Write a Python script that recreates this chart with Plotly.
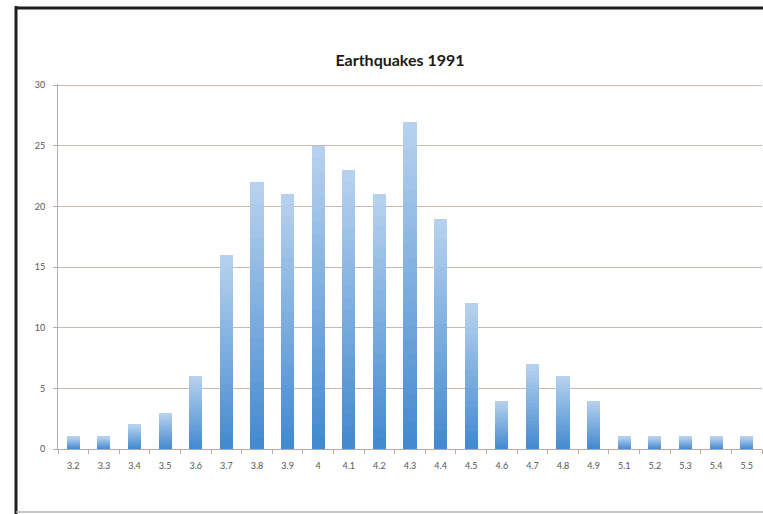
import plotly.graph_objects as go

# Earthquake counts by magnitude, 1991
magnitudes = ["3.2", "3.3", "3.4", "3.5", "3.6", "3.7", "3.8", "3.9", "4", "4.1", "4.2",
              "4.3", "4.4", "4.5", "4.6", "4.7", "4.8", "4.9", "5.1", "5.2", "5.3", "5.4", "5.5"]
counts = [1, 1, 2, 3, 6, 16, 22, 21, 25, 23, 21, 27, 19, 12, 4, 7, 6, 4, 1, 1, 1, 1, 1]
y_ticks = [0, 5, 10, 15, 20, 25, 30]

W, H = 763, 514
ML, MR, MT, MB = 58, 1, 84, 65
PW, PH = W - ML - MR, H - MT - MB


def px_x(px):
    return (px - ML) / PW


def px_y(py):
    return (H - MB - py) / PH


def lerp(c1, c2, t):
    return "#%02x%02x%02x" % tuple(round(a + (b - a) * t) for a, b in zip(c1, c2))


# Each bar is split into thin stacked slices shaded from dark (bottom) to light (top)
dark = (0x44, 0x8a, 0xd0)
light = (0xb6, 0xd1, 0xee)
steps = 24
fig = go.Figure()
for i in range(steps):
    fig.add_trace(go.Bar(
        x=magnitudes,
        y=[c / steps for c in counts],
        marker=dict(color=lerp(dark, light, i / (steps - 1)), line=dict(width=0)),
        showlegend=False,
        hoverinfo="skip",
    ))

fig.update_layout(
    width=W, height=H,
    margin=dict(l=ML, r=MR, t=MT, b=MB),
    barmode="stack",
    bargap=0.57,
    plot_bgcolor="white",
    paper_bgcolor="white",
    title=dict(text="<b>Earthquakes 1991</b>", x=400 / W, xanchor="center",
               y=1 - 60 / H, yanchor="middle",
               font=dict(family="Lato, Open Sans, sans-serif", size=16, color="#1a1a1a")),
    font=dict(family="Lato, Open Sans, sans-serif", size=9, color="#555555"),
)

fig.update_xaxes(
    type="category",
    showgrid=False,
    showline=True, linecolor="#b5aaa4", linewidth=1,
    ticks="outside", tickson="boundaries", ticklen=4, tickcolor="#b5aaa4",
    ticklabelstandoff=8,
    tickfont=dict(size=9, color="#555555"),
)
fig.update_yaxes(
    range=[0, 30.1],
    tickvals=y_ticks,
    showgrid=True, gridcolor="#cdb6ab", gridwidth=1,
    showline=True, linecolor="#b5aaa4", linewidth=1,
    ticks="outside", ticklen=4, tickcolor="#b5aaa4",
    ticklabelstandoff=6,
    tickfont=dict(size=9, color="#555555"),
    zeroline=False,
)

# Frame around the chart
frame = [
    dict(x0=px_x(16), x1=px_x(16), y0=px_y(6), y1=px_y(H), color="#1e1e1e", width=3),
    dict(x0=px_x(15), x1=px_x(W), y0=px_y(8), y1=px_y(8), color="#1e1e1e", width=3),
    dict(x0=px_x(16), x1=px_x(W), y0=px_y(512), y1=px_y(512), color="#b0b0b0", width=1.5),
]
for f in frame:
    fig.add_shape(type="line", xref="paper", yref="paper",
                  x0=f["x0"], x1=f["x1"], y0=f["y0"], y1=f["y1"],
                  line=dict(color=f["color"], width=f["width"]))

fig.write_html("out.html")
